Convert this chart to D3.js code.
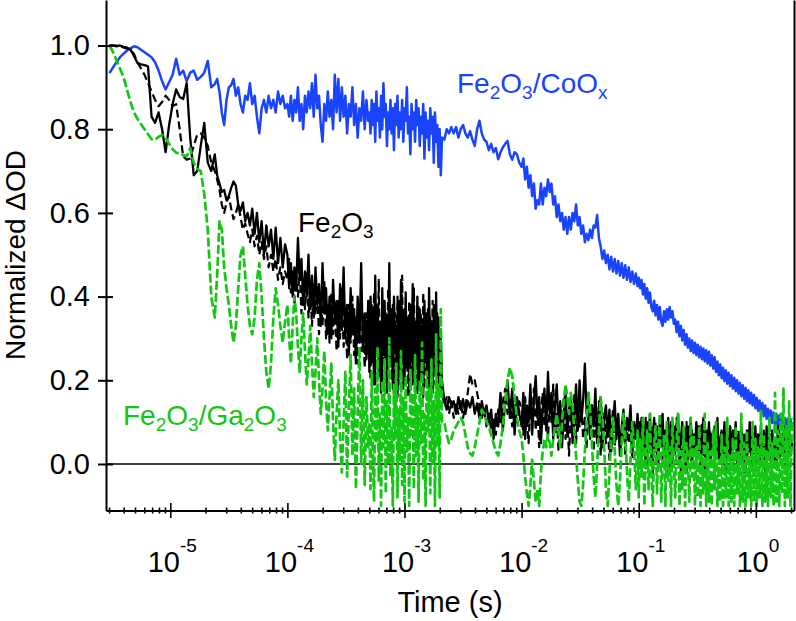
<!DOCTYPE html>
<html><head><meta charset="utf-8">
<script src="https://cdn.jsdelivr.net/npm/d3@7"></script>
<style>html,body{margin:0;padding:0;background:#fff;}svg{display:block;}</style>
</head><body>
<svg id="chart" width="796" height="621"></svg>
<script>
// ---------- DATA ----------
// sample times, as log10(t / s), first acquisition window (up to ~2 ms)
const logTimeA = [
-5.52,-5.49,-5.46,-5.43,-5.40,-5.37,-5.34,-5.31,-5.28,-5.25,-5.22,-5.19,-5.16,-5.13,-5.10,-5.07,-5.04,-5.01,-4.98,-4.95,-4.92,-4.89,-4.86,-4.83,-4.80,-4.77,-4.74,-4.71,-4.68,-4.65,-4.62,
-4.60,-4.58,-4.56,-4.54,-4.52,-4.50,-4.48,-4.46,-4.44,-4.42,-4.40,-4.38,-4.36,-4.34,-4.32,-4.30,-4.28,-4.26,-4.24,-4.22,-4.20,-4.18,-4.16,-4.14,-4.12,-4.10,-4.08,-4.06,-4.04,-4.02,
-4.000,-3.985,-3.970,-3.955,-3.940,-3.925,-3.910,-3.895,-3.880,-3.865,-3.850,-3.835,-3.820,-3.805,-3.790,-3.775,-3.760,-3.745,-3.730,-3.715,-3.700,-3.685,-3.670,-3.655,-3.640,-3.625,-3.610,-3.595,-3.580,-3.565,-3.550,-3.535,-3.520,-3.505,-3.490,-3.475,-3.460,-3.445,-3.430,-3.415,-3.400,-3.385,-3.370,-3.355,-3.340,-3.325,-3.310,
-3.30,-3.29,-3.28,-3.27,-3.26,-3.25,-3.24,-3.23,-3.22,-3.21,-3.20,-3.19,-3.18,-3.17,-3.16,-3.15,-3.14,-3.13,-3.12,-3.11,-3.10,-3.09,-3.08,-3.07,-3.06,-3.05,-3.04,-3.03,-3.02,-3.01,-3.00,-2.99,-2.98,-2.97,-2.96,-2.95,-2.94,-2.93,-2.92,-2.91,-2.90,-2.89,-2.88,-2.87,-2.86,-2.85,-2.84,-2.83,-2.82,-2.81,-2.80,-2.79,-2.78,-2.77,-2.76,-2.75,-2.74,-2.73,-2.72,-2.71,-2.70,-2.69,-2.68
];
// sample times, as log10(t / s), second acquisition window (~2 ms to 2 s)
const logTimeB = [
-2.66,-2.64,-2.62,-2.60,-2.58,-2.56,-2.54,-2.52,-2.50,-2.48,-2.46,-2.44,-2.42,-2.40,-2.38,-2.36,-2.34,-2.32,-2.30,-2.28,-2.26,-2.24,-2.22,-2.20,-2.18,-2.16,-2.14,-2.12,-2.10,-2.08,-2.06,-2.04,-2.02,
-2.000,-1.985,-1.970,-1.955,-1.940,-1.925,-1.910,-1.895,-1.880,-1.865,-1.850,-1.835,-1.820,-1.805,-1.790,-1.775,-1.760,-1.745,-1.730,-1.715,-1.700,-1.685,-1.670,-1.655,-1.640,-1.625,-1.610,-1.595,-1.580,-1.565,-1.550,-1.535,-1.520,-1.505,-1.490,-1.475,-1.460,-1.445,-1.430,-1.415,-1.400,-1.385,-1.370,-1.355,-1.340,-1.325,-1.310,-1.295,-1.280,-1.265,-1.250,-1.235,-1.220,-1.205,-1.190,-1.175,-1.160,-1.145,-1.130,-1.115,-1.100,-1.085,-1.070,-1.055,-1.040,-1.025,-1.010,
-1.000,-0.988,-0.976,-0.964,-0.952,-0.940,-0.928,-0.916,-0.904,-0.892,-0.880,-0.868,-0.856,-0.844,-0.832,-0.820,-0.808,-0.796,-0.784,-0.772,-0.760,-0.748,-0.736,-0.724,-0.712,-0.700,-0.688,-0.676,-0.664,-0.652,-0.640,-0.628,-0.616,-0.604,-0.592,-0.580,-0.568,-0.556,-0.544,-0.532,-0.520,-0.508,-0.496,-0.484,-0.472,-0.460,-0.448,-0.436,-0.424,-0.412,-0.400,-0.388,-0.376,-0.364,-0.352,-0.340,-0.328,-0.316,-0.304,-0.292,-0.280,-0.268,-0.256,-0.244,-0.232,-0.220,-0.208,-0.196,-0.184,-0.172,-0.160,-0.148,-0.136,-0.124,-0.112,-0.100,-0.088,-0.076,-0.064,-0.052,-0.040,-0.028,-0.016,-0.004,0.008,0.020,0.032,0.044,0.056,0.068,0.080,0.092,0.104,0.116,0.128,0.140,0.152,0.164,0.176,0.188,0.200,0.212,0.224,0.236,0.248,0.260,0.272,0.284,0.296,0.308
];

// Fe2O3/CoOx (blue, solid)
const cooxA = [
0.934,0.947,0.96,0.972,0.98,0.988,0.993,0.998,0.996,0.99,0.984,0.978,0.972,0.96,0.94,0.915,0.895,0.912,0.93,0.968,0.93,0.94,0.915,0.935,0.94,0.918,0.925,0.935,0.963,0.90,0.908,
0.92,0.89,0.84,0.81,0.87,0.90,0.905,0.92,0.88,0.90,0.86,0.84,0.88,0.87,0.91,0.86,0.88,0.83,0.79,0.85,0.87,0.84,0.88,0.85,0.87,0.84,0.89,0.86,0.88,0.85,
0.86,0.83,0.88,0.82,0.87,0.84,0.90,0.82,0.86,0.80,0.88,0.84,0.89,0.85,0.91,0.83,0.93,0.85,0.88,0.81,0.77,0.86,0.82,0.89,0.83,0.87,0.80,0.93,0.84,0.92,0.82,0.90,0.83,0.88,0.79,0.86,0.83,0.90,0.81,0.86,0.78,0.85,0.82,0.89,0.80,0.87,0.82,
0.84,0.79,0.87,0.81,0.86,0.77,0.89,0.82,0.85,0.78,0.88,0.80,0.91,0.83,0.86,0.76,0.84,0.80,0.87,0.79,0.85,0.75,0.86,0.81,0.88,0.78,0.84,0.80,0.87,0.77,0.85,0.82,0.90,0.79,0.83,0.74,0.86,0.80,0.84,0.77,0.87,0.81,0.85,0.76,0.83,0.79,0.86,0.73,0.84,0.78,0.82,0.75,0.85,0.79,0.83,0.72,0.84,0.77,0.81,0.71,0.80,0.69,0.78
];
const cooxB = [
0.775,0.80,0.79,0.805,0.79,0.805,0.78,0.80,0.81,0.79,0.78,0.795,0.775,0.76,0.80,0.82,0.79,0.775,0.77,0.75,0.765,0.745,0.755,0.728,0.745,0.757,0.765,0.772,0.74,0.727,0.745,0.74,0.72,
0.71,0.73,0.68,0.71,0.66,0.69,0.64,0.67,0.61,0.63,0.62,0.67,0.62,0.66,0.64,0.68,0.65,0.67,0.62,0.64,0.59,0.62,0.58,0.60,0.56,0.59,0.55,0.59,0.56,0.60,0.58,0.62,0.57,0.59,0.55,0.57,0.53,0.55,0.535,0.56,0.54,0.57,0.565,0.595,0.54,0.52,0.49,0.51,0.48,0.50,0.465,0.495,0.46,0.49,0.455,0.485,0.45,0.48,0.445,0.475,0.44,0.47,0.435,0.46,0.43,0.455,0.425,
0.445,0.42,0.44,0.405,0.43,0.395,0.42,0.385,0.41,0.375,0.365,0.39,0.355,0.38,0.345,0.375,0.34,0.33,0.365,0.34,0.37,0.345,0.375,0.35,0.365,0.335,0.345,0.315,0.34,0.305,0.33,0.295,0.32,0.285,0.31,0.278,0.30,0.27,0.295,0.265,0.29,0.26,0.285,0.255,0.28,0.25,0.276,0.245,0.272,0.24,0.268,0.235,0.26,0.228,0.255,0.22,0.245,0.212,0.238,0.205,0.23,0.198,0.224,0.192,0.218,0.186,0.212,0.18,0.206,0.174,0.2,0.168,0.194,0.162,0.188,0.156,0.182,0.15,0.176,0.145,0.17,0.14,0.165,0.133,0.158,0.127,0.152,0.12,0.146,0.114,0.14,0.108,0.132,0.102,0.128,0.098,0.123,0.094,0.12,0.09,0.116,0.087,0.113,0.085,0.11,0.083,0.108,0.082,0.106,0.08
];

// Fe2O3 (black, solid)
const fe2o3A = [
1.0,1.0,0.998,1.0,0.997,0.995,0.99,0.975,0.958,0.955,0.953,0.95,0.83,0.815,0.84,0.80,0.745,0.81,0.86,0.895,0.877,0.872,0.91,0.78,0.69,0.70,0.76,0.815,0.72,0.70,0.74,
0.69,0.67,0.65,0.655,0.63,0.64,0.66,0.675,0.665,0.62,0.605,0.625,0.58,0.60,0.57,0.61,0.55,0.60,0.53,0.58,0.50,0.57,0.52,0.56,0.49,0.565,0.48,0.54,0.47,0.525,
0.50,0.42,0.48,0.40,0.47,0.42,0.54,0.44,0.49,0.38,0.46,0.40,0.50,0.37,0.45,0.35,0.47,0.38,0.43,0.33,0.48,0.36,0.42,0.31,0.40,0.30,0.44,0.34,0.39,0.28,0.43,0.32,0.47,0.30,0.38,0.26,0.42,0.31,0.37,0.24,0.40,0.29,0.48,0.27,0.36,0.25,0.39,
0.22,0.40,0.25,0.36,0.19,0.45,0.27,0.38,0.21,0.34,0.17,0.42,0.26,0.39,0.20,0.35,0.23,0.48,0.24,0.37,0.18,0.40,0.28,0.33,0.16,0.39,0.22,0.44,0.25,0.36,0.19,0.41,0.23,0.35,0.17,0.38,0.26,0.43,0.20,0.34,0.24,0.40,0.18,0.37,0.22,0.33,0.16,0.39,0.25,0.36,0.19,0.42,0.21,0.34,0.17,0.38,0.23,0.41,0.20,0.35,0.18,0.30,0.20
];
const fe2o3B = [
0.15,0.13,0.16,0.14,0.15,0.12,0.16,0.13,0.155,0.12,0.15,0.135,0.16,0.12,0.145,0.11,0.15,0.12,0.14,0.10,0.13,0.06,0.12,0.09,0.17,0.08,0.15,0.20,0.11,0.18,0.07,0.16,0.12,
0.09,0.17,0.06,0.14,0.10,0.19,0.07,0.15,0.21,0.11,0.16,0.05,0.13,0.18,0.08,0.22,0.12,0.17,0.06,0.14,0.19,0.09,0.15,0.04,0.12,0.18,0.07,0.13,0.16,0.05,0.11,0.19,0.08,0.20,0.10,0.15,0.24,0.12,0.17,0.06,0.14,0.09,0.18,0.05,0.12,0.16,0.04,0.11,0.14,0.07,0.13,0.03,0.10,0.15,0.06,0.12,0.02,0.09,0.13,0.05,0.11,0.08,0.14,0.03,0.10,0.06,0.12,
0.08,0.02,0.11,0.04,0.09,-0.01,0.10,0.05,0.12,0.01,0.07,0.11,0.03,0.09,0.00,0.10,0.06,0.12,0.02,0.08,0.04,0.11,-0.01,0.07,0.10,0.03,0.09,0.05,0.12,0.01,0.06,0.10,0.02,0.08,-0.02,0.09,0.04,0.11,0.00,0.07,0.03,0.10,0.05,0.09,-0.01,0.06,0.11,0.02,0.08,0.04,0.10,0.00,0.07,0.03,0.09,0.05,0.11,0.01,0.06,0.08,0.02,0.10,-0.02,0.07,0.04,0.09,0.01,0.08,0.05,0.10,0.00,0.06,0.03,0.09,0.02,0.07,-0.01,0.08,0.04,0.10,0.01,0.06,0.03,0.09,0.00,0.07,0.05,0.08,0.02,0.06,-0.01,0.09,0.03,0.07,0.01,0.08,0.04,0.06,0.00,0.09,0.02,0.07,0.03,0.10,0.01,0.06,0.04,0.08,0.02,0.05
];

// Fe2O3, second measurement (black, dashed)
const fe2o3bA = [
1.0,1.0,1.0,0.998,0.995,0.993,0.99,0.98,0.96,0.945,0.93,0.91,0.89,0.87,0.855,0.865,0.88,0.87,0.855,0.86,0.80,0.735,0.727,0.73,0.76,0.787,0.79,0.78,0.76,0.72,0.70,
0.68,0.655,0.62,0.60,0.625,0.64,0.61,0.585,0.60,0.62,0.59,0.56,0.575,0.55,0.53,0.56,0.52,0.545,0.50,0.53,0.49,0.52,0.47,0.50,0.46,0.49,0.44,0.47,0.43,0.46,
0.44,0.49,0.41,0.46,0.38,0.45,0.40,0.47,0.36,0.44,0.37,0.46,0.35,0.42,0.33,0.43,0.36,0.41,0.31,0.40,0.33,0.44,0.30,0.38,0.29,0.41,0.31,0.37,0.27,0.39,0.30,0.42,0.28,0.36,0.25,0.38,0.29,0.40,0.26,0.35,0.24,0.37,0.27,0.33,0.23,0.36,0.26,
0.30,0.20,0.38,0.24,0.41,0.19,0.35,0.26,0.44,0.21,0.33,0.18,0.39,0.23,0.36,0.17,0.42,0.25,0.34,0.20,0.38,0.15,0.36,0.24,0.40,0.19,0.33,0.22,0.45,0.18,0.37,0.25,0.31,0.16,0.39,0.21,0.35,0.19,0.42,0.23,0.32,0.17,0.38,0.20,0.36,0.24,0.41,0.18,0.33,0.22,0.37,0.16,0.35,0.21,0.39,0.19,0.32,0.23,0.36,0.18,0.29,0.21,0.17
];
const fe2o3bB = [
0.14,0.16,0.12,0.15,0.11,0.145,0.12,0.15,0.11,0.14,0.17,0.215,0.19,0.20,0.17,0.14,0.11,0.13,0.09,0.12,0.08,0.11,0.07,0.13,0.10,0.15,0.18,0.12,0.16,0.09,0.14,0.10,0.15,
0.13,0.07,0.16,0.10,0.05,0.15,0.11,0.18,0.08,0.14,0.04,0.12,0.17,0.09,0.13,0.06,0.15,0.10,0.19,0.07,0.12,0.03,0.14,0.09,0.16,0.06,0.11,0.02,0.13,0.08,0.17,0.05,0.12,0.09,0.15,0.06,0.11,0.04,0.13,0.08,0.14,0.03,0.10,0.07,0.15,0.02,0.09,0.12,0.05,0.10,0.01,0.08,0.13,0.04,0.09,0.11,0.03,0.07,0.12,0.02,0.08,0.05,0.10,0.01,0.07,0.09,0.04,
0.05,0.10,0.01,0.08,0.03,0.11,0.00,0.07,0.04,0.09,-0.02,0.06,0.10,0.02,0.08,0.04,0.12,0.01,0.07,-0.01,0.09,0.03,0.06,0.10,0.00,0.08,0.02,0.11,0.04,0.07,-0.02,0.09,0.05,0.03,0.10,0.01,0.06,-0.01,0.08,0.04,0.07,0.00,0.09,0.02,0.06,0.10,0.03,-0.02,0.07,0.05,0.01,0.08,0.03,0.06,-0.01,0.09,0.02,0.05,0.00,0.07,0.04,0.08,-0.02,0.06,0.01,0.09,0.03,0.05,-0.01,0.07,0.02,0.08,0.00,0.06,0.04,-0.02,0.07,0.01,0.05,0.03,0.08,-0.01,0.06,0.02,0.04,0.07,0.00,0.05,0.03,0.08,-0.02,0.06,0.01,0.04,0.07,0.02,0.05,-0.01,0.06,0.03,0.08,0.00,0.05,0.02,0.07,0.04,0.01,0.06,0.03,0.05
];

// Fe2O3/Ga2O3 (green, dashed)
const ga2o3A = [
1.0,0.985,0.965,0.945,0.925,0.895,0.865,0.84,0.825,0.812,0.80,0.788,0.776,0.775,0.782,0.786,0.78,0.765,0.752,0.744,0.742,0.738,0.735,0.755,0.72,0.706,0.70,0.645,0.56,0.40,0.35,
0.45,0.58,0.56,0.47,0.42,0.38,0.33,0.29,0.33,0.42,0.50,0.52,0.45,0.38,0.33,0.31,0.35,0.44,0.48,0.40,0.30,0.22,0.18,0.24,0.35,0.42,0.38,0.33,0.29,0.34,
0.38,0.30,0.24,0.33,0.40,0.36,0.28,0.22,0.30,0.36,0.27,0.19,0.25,0.33,0.24,0.16,0.22,0.30,0.20,0.12,0.18,0.27,0.15,0.08,0.16,0.24,0.10,0.01,0.12,0.20,0.06,-0.02,0.10,0.22,-0.03,0.14,0.26,0.02,0.18,-0.06,0.12,0.28,0.00,0.20,-0.05,0.16,0.04,
0.10,-0.06,0.22,0.02,-0.09,0.18,0.05,0.28,-0.04,0.12,-0.10,0.20,0.04,0.25,-0.07,0.15,0.00,0.30,-0.03,0.09,-0.10,0.19,0.06,0.24,-0.08,0.13,0.01,0.27,-0.05,0.16,-0.09,0.21,0.03,0.11,-0.10,0.23,0.07,0.17,-0.06,0.26,0.02,0.14,-0.09,0.20,0.05,0.29,-0.04,0.12,-0.10,0.22,0.08,0.18,-0.07,0.25,0.00,0.15,-0.10,0.31,0.04,0.19,-0.08,0.37,0.10
];
const ga2o3B = [
0.10,0.07,0.05,0.06,0.08,0.09,0.10,0.11,0.10,0.07,0.04,0.025,0.02,0.04,0.07,0.10,0.13,0.12,0.10,0.09,0.07,0.05,0.03,0.02,0.05,0.09,0.15,0.20,0.23,0.21,0.16,0.11,0.08,
0.06,0.02,-0.03,-0.07,-0.10,-0.05,0.01,-0.04,-0.09,-0.06,-0.10,-0.02,0.03,0.06,0.04,0.07,0.05,0.02,0.06,0.09,0.12,0.08,0.04,0.10,0.15,0.19,0.16,0.12,0.17,0.14,0.08,0.02,-0.04,-0.09,-0.10,-0.05,0.03,0.10,0.17,0.13,0.05,-0.03,-0.08,0.00,0.08,0.16,0.11,0.04,-0.06,-0.10,-0.02,0.06,0.11,0.03,-0.05,-0.10,-0.04,0.05,0.12,0.07,-0.02,-0.09,0.01,0.10,0.04,-0.06,0.08,
-0.08,0.06,-0.03,0.11,-0.10,0.02,0.08,-0.06,0.12,-0.02,-0.10,0.05,0.09,-0.07,0.03,0.12,-0.09,0.01,0.07,-0.10,0.10,-0.04,0.04,-0.10,0.11,0.00,-0.08,0.06,0.12,-0.10,0.03,-0.06,0.09,-0.10,0.05,0.01,-0.09,0.11,-0.03,0.07,
-0.10,0.04,-0.08,0.09,-0.10,0.02,-0.07,0.12,-0.10,0.05,-0.09,0.03,-0.10,0.08,-0.06,0.10,-0.10,0.01,-0.09,0.07,-0.10,0.04,-0.08,0.11,-0.10,0.02,-0.09,0.06,-0.10,0.09,-0.07,0.03,-0.10,0.12,-0.09,0.05,-0.10,0.08,-0.08,0.02,-0.10,0.10,-0.09,0.06,-0.10,0.04,-0.08,0.13,-0.10,0.07,-0.09,0.03,-0.10,0.11,-0.08,0.05,-0.10,0.17,-0.09,0.08,-0.10,0.12,-0.07,0.18,-0.10,0.09,-0.08,0.15,-0.10,0.11
];

const yTickValues = [0.0, 0.2, 0.4, 0.6, 0.8, 1.0];
const xMajorExponents = [-5, -4, -3, -2, -1, 0];
const xTickBase = "10";
const yTitle = "Normalized \u0394OD";
const xTitle = "Time (s)";

// ---------- CHART ----------
const FONT = "'Liberation Sans', Arial, Helvetica, sans-serif";
const BLUE = "#1a44fb", GREEN = "#14c614", BLACK = "#000000";
const svg = d3.select("#chart");
const P = {left: 106, right: 794, top: 0, bottom: 510.5};

const x = d3.scaleLog().domain([Math.pow(10, -5.549), Math.pow(10, 0.326)]).range([P.left, P.right]);
const y = d3.scaleLinear().domain([-0.1111, 1.1087]).range([P.bottom, P.top]);

const times = logTimeA.concat(logTimeB).map(e => Math.pow(10, e));
function pts(a, b) {
  const v = a.concat(b);
  return times.map((t, i) => [t, v[i]]).filter(d => d[1] !== undefined);
}
const series = [
  {vals: pts(cooxA, cooxB), color: BLUE, dash: null, w: 2.5},
  {vals: pts(fe2o3bA, fe2o3bB), color: BLACK, dash: "8,4", w: 2.2},
  {vals: pts(fe2o3A, fe2o3B), color: BLACK, dash: null, w: 2.3},
  {vals: pts(ga2o3A, ga2o3B), color: GREEN, dash: "9,3", w: 2.7}
];

svg.append("defs").append("clipPath").attr("id", "clip")
  .append("rect").attr("x", P.left).attr("y", P.top)
  .attr("width", P.right - P.left).attr("height", P.bottom - P.top);

// zero line
svg.append("line")
  .attr("x1", P.left).attr("x2", P.right)
  .attr("y1", y(0)).attr("y2", y(0))
  .attr("stroke", "#000").attr("stroke-width", 1.3);

const line = d3.line().x(d => x(d[0])).y(d => y(d[1]));
const gData = svg.append("g").attr("clip-path", "url(#clip)");
series.forEach(s => {
  gData.append("path")
    .attr("d", line(s.vals))
    .attr("fill", "none")
    .attr("stroke", s.color)
    .attr("stroke-width", s.w)
    .attr("stroke-linejoin", "round")
    .attr("stroke-dasharray", s.dash);
});

// y axis (left)
const gy = svg.append("g").attr("transform", `translate(${P.left},0)`)
  .call(d3.axisLeft(y).tickValues(yTickValues).tickFormat(d3.format(".1f"))
    .tickSizeInner(8).tickSizeOuter(0).tickPadding(8));
gy.select(".domain").attr("stroke-width", 2);
gy.selectAll(".tick line").attr("x1", 7).attr("x2", -8).attr("stroke-width", 2);
gy.selectAll(".tick text").attr("font-family", FONT).attr("font-size", 29).attr("fill", "#000");

// right axis
const gr = svg.append("g").attr("transform", `translate(${P.right},0)`)
  .call(d3.axisRight(y).tickValues([]).tickSizeOuter(0));
gr.select(".domain").attr("stroke-width", 2);

// x axis (bottom)
const allX = x.ticks().filter(t => t >= x.domain()[0] && t <= x.domain()[1]);
const isMajor = t => Math.abs(Math.log10(t) - Math.round(Math.log10(t))) < 1e-6;
const gx = svg.append("g").attr("transform", `translate(0,${P.bottom})`)
  .call(d3.axisBottom(x).tickValues(allX).tickFormat("").tickSizeOuter(0));
gx.select(".domain").attr("stroke-width", 2);
gx.selectAll(".tick line")
  .attr("y1", d => isMajor(d) ? -7.5 : -3)
  .attr("y2", d => isMajor(d) ? 7.5 : 3)
  .attr("stroke-width", 1.6);

// x tick labels 10^n
xMajorExponents.forEach(e => {
  const t = svg.append("text")
    .attr("x", x(Math.pow(10, e)) + 2).attr("y", 572)
    .attr("text-anchor", "middle")
    .attr("font-family", FONT).attr("fill", "#000");
  t.append("tspan").attr("font-size", 29).text(xTickBase);
  t.append("tspan").attr("font-size", 19).attr("dy", -20).text(String(e));
});

// axis titles
svg.append("text")
  .attr("transform", "translate(25,255) rotate(-90)")
  .attr("text-anchor", "middle")
  .attr("font-family", FONT).attr("font-size", 28).attr("fill", "#000")
  .text(yTitle);
svg.append("text")
  .attr("x", 450).attr("y", 612)
  .attr("text-anchor", "middle")
  .attr("font-family", FONT).attr("font-size", 29).attr("fill", "#000")
  .text(xTitle);

// series annotations with subscripts
function chem(xp, yp, parts, color) {
  const t = svg.append("text").attr("x", xp).attr("y", yp)
    .attr("font-family", FONT).attr("fill", color);
  let sub = false;
  parts.forEach(p => {
    const isSub = p[1] === 1;
    const ts = t.append("tspan").attr("font-size", isSub ? 19 : 28).text(p[0]);
    if (isSub && !sub) ts.attr("dy", 6);
    if (!isSub && sub) ts.attr("dy", -6);
    sub = isSub;
  });
}
chem(457, 93, [["Fe",0],["2",1],["O",0],["3",1],["/CoO",0],["x",1]], BLUE);
chem(298, 232, [["Fe",0],["2",1],["O",0],["3",1]], BLACK);
chem(123, 425, [["Fe",0],["2",1],["O",0],["3",1],["/Ga",0],["2",1],["O",0],["3",1]], GREEN);
</script>
</body></html>
